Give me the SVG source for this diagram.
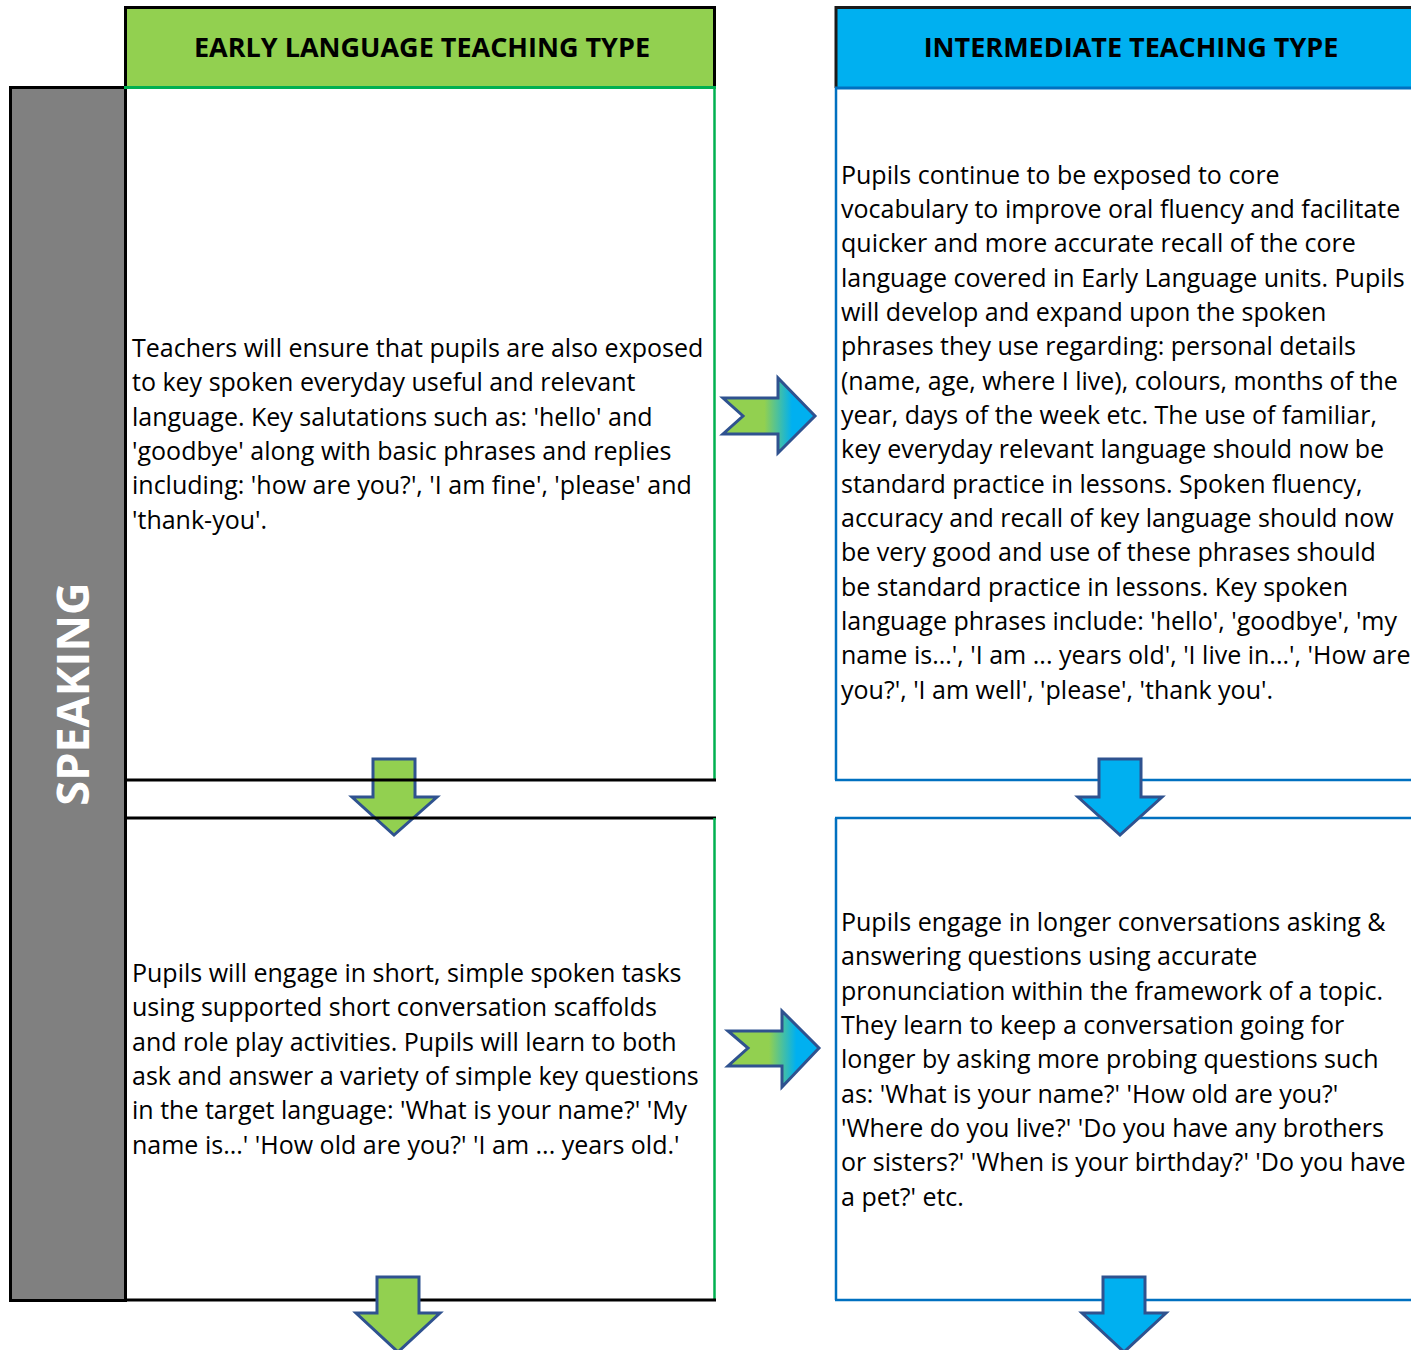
<svg xmlns="http://www.w3.org/2000/svg" width="1411" height="1350" viewBox="0 0 1411 1350">
<style>
.body{font-family:"Open Sans","Noto Sans","DejaVu Sans",sans-serif;font-size:25px;fill:#000}
.hdr{font-family:"Open Sans","Noto Sans","DejaVu Sans",sans-serif;font-size:27px;font-weight:bold;fill:#000;text-anchor:middle}
.side{font-family:"Open Sans","Noto Sans","DejaVu Sans",sans-serif;font-size:45px;font-weight:bold;fill:#fff;text-anchor:middle}
.arrowG{fill:#92D050;stroke:#2F528F;stroke-width:3;stroke-linejoin:miter}
.arrowB{fill:#00B0F0;stroke:#2F528F;stroke-width:3;stroke-linejoin:miter}
.arrowR{fill:url(#grad);stroke:#2F528F;stroke-width:3;stroke-linejoin:miter}
</style>
<defs>
<linearGradient id="grad" x1="0" y1="0" x2="1" y2="0">
<stop offset="0" stop-color="#92D050"/>
<stop offset="0.45" stop-color="#92D050"/>
<stop offset="0.75" stop-color="#00B0F0"/>
<stop offset="1" stop-color="#00B0F0"/>
</linearGradient>
</defs>
<rect width="1411" height="1350" fill="#fff"/>

<g id="side-speaking">
<rect x="10.5" y="87.5" width="115" height="1213" fill="#808080" stroke="#000" stroke-width="3"/>
<text class="side" transform="translate(89,694) rotate(-90)">SPEAKING</text>
</g>

<g id="header-early">
<rect x="125.5" y="7.5" width="589" height="80" fill="#92D050"/>
<path d="M125.5 88 V7.5 H714.5 V88" fill="none" stroke="#000" stroke-width="3"/>
<line x1="124" y1="87.5" x2="716" y2="87.5" stroke="#00B050" stroke-width="3"/>
<text class="hdr" x="422" y="57">EARLY LANGUAGE TEACHING TYPE</text>
</g>

<g id="header-intermediate">
<rect x="836" y="7.5" width="600" height="80" fill="#00B0F0"/>
<path d="M836 88 V7.5 H1440" fill="none" stroke="#1a1a1a" stroke-width="3"/>
<line x1="835" y1="88" x2="1440" y2="88" stroke="#0070C0" stroke-width="3"/>
<text class="hdr" x="1131" y="57">INTERMEDIATE TEACHING TYPE</text>
</g>

<g id="arrow-down-early-1">
<polygon class="arrowG" points="373,759 415,759 415,797 437,797 394,835 352,797 373,797"/>
</g>

<g id="box-early-1">
<line x1="714.5" y1="88" x2="714.5" y2="780" stroke="#00B050" stroke-width="2.5"/>
<line x1="125" y1="780" x2="716" y2="780" stroke="#000" stroke-width="3"/>
<text class="body">
<tspan x="132" y="357">Teachers will ensure that pupils are also exposed</tspan>
<tspan x="132" y="391.35">to key spoken everyday useful and relevant</tspan>
<tspan x="132" y="425.7">language. Key salutations such as: 'hello' and</tspan>
<tspan x="132" y="460.05">'goodbye' along with basic phrases and replies</tspan>
<tspan x="132" y="494.4">including: 'how are you?', 'I am fine', 'please' and</tspan>
<tspan x="132" y="528.75">'thank-you'.</tspan>
</text>
</g>

<g id="box-early-2">
<line x1="125" y1="818" x2="716" y2="818" stroke="#000" stroke-width="3"/>
<line x1="714.5" y1="818" x2="714.5" y2="1300" stroke="#00B050" stroke-width="2.5"/>
<line x1="125" y1="1300" x2="716" y2="1300" stroke="#000" stroke-width="3"/>
<text class="body">
<tspan x="132" y="982">Pupils will engage in short, simple spoken tasks</tspan>
<tspan x="132" y="1016.35">using supported short conversation scaffolds</tspan>
<tspan x="132" y="1050.7">and role play activities. Pupils will learn to both</tspan>
<tspan x="132" y="1085.05">ask and answer a variety of simple key questions</tspan>
<tspan x="132" y="1119.4">in the target language: 'What is your name?' 'My</tspan>
<tspan x="132" y="1153.75">name is...' 'How old are you?' 'I am ... years old.'</tspan>
</text>
</g>

<g id="box-intermediate-1">
<line x1="836" y1="88" x2="836" y2="780" stroke="#0070C0" stroke-width="2.5"/>
<line x1="835" y1="780" x2="1411" y2="780" stroke="#0070C0" stroke-width="2.5"/>
<text class="body">
<tspan x="841" y="183.5">Pupils continue to be exposed to core</tspan>
<tspan x="841" y="217.85">vocabulary to improve oral fluency and facilitate</tspan>
<tspan x="841" y="252.2">quicker and more accurate recall of the core</tspan>
<tspan x="841" y="286.55">language covered in Early Language units. Pupils</tspan>
<tspan x="841" y="320.9">will develop and expand upon the spoken</tspan>
<tspan x="841" y="355.25">phrases they use regarding: personal details</tspan>
<tspan x="841" y="389.6">(name, age, where I live), colours, months of the</tspan>
<tspan x="841" y="423.95">year, days of the week etc. The use of familiar,</tspan>
<tspan x="841" y="458.3">key everyday relevant language should now be</tspan>
<tspan x="841" y="492.65">standard practice in lessons. Spoken fluency,</tspan>
<tspan x="841" y="527">accuracy and recall of key language should now</tspan>
<tspan x="841" y="561.35">be very good and use of these phrases should</tspan>
<tspan x="841" y="595.7">be standard practice in lessons. Key spoken</tspan>
<tspan x="841" y="630.05">language phrases include: 'hello', 'goodbye', 'my</tspan>
<tspan x="841" y="664.4">name is...', 'I am ... years old', 'I live in...', 'How are</tspan>
<tspan x="841" y="698.75">you?', 'I am well', 'please', 'thank you'.</tspan>
</text>
</g>

<g id="box-intermediate-2">
<line x1="835" y1="818" x2="1411" y2="818" stroke="#0070C0" stroke-width="2.5"/>
<line x1="836" y1="818" x2="836" y2="1300" stroke="#0070C0" stroke-width="2.5"/>
<line x1="835" y1="1300" x2="1411" y2="1300" stroke="#0070C0" stroke-width="2.5"/>
<text class="body">
<tspan x="841" y="931">Pupils engage in longer conversations asking &amp;</tspan>
<tspan x="841" y="965.35">answering questions using accurate</tspan>
<tspan x="841" y="999.7">pronunciation within the framework of a topic.</tspan>
<tspan x="841" y="1034.05">They learn to keep a conversation going for</tspan>
<tspan x="841" y="1068.4">longer by asking more probing questions such</tspan>
<tspan x="841" y="1102.75">as: 'What is your name?' 'How old are you?'</tspan>
<tspan x="841" y="1137.1">'Where do you live?' 'Do you have any brothers</tspan>
<tspan x="841" y="1171.45">or sisters?' 'When is your birthday?' 'Do you have</tspan>
<tspan x="841" y="1205.8">a pet?' etc.</tspan>
</text>
</g>

<g id="connectors">
<polygon class="arrowB" points="1099,759 1141,759 1141,797 1162,797 1120,835 1078,797 1099,797"/>
<polygon class="arrowG" points="377,1277 419,1277 419,1313 440,1313 398,1352 356,1313 377,1313"/>
<polygon class="arrowB" points="1103,1277 1145,1277 1145,1313 1166,1313 1124,1352 1082,1313 1103,1313"/>
<polygon class="arrowR" points="723,398 778,398 778,378 815,416 778,453 778,434 723,434 743,416"/>
<polygon class="arrowR" points="728,1031 782,1031 782,1011 819,1048 782,1087 782,1066 728,1066 748,1048"/>
</g>
</svg>
